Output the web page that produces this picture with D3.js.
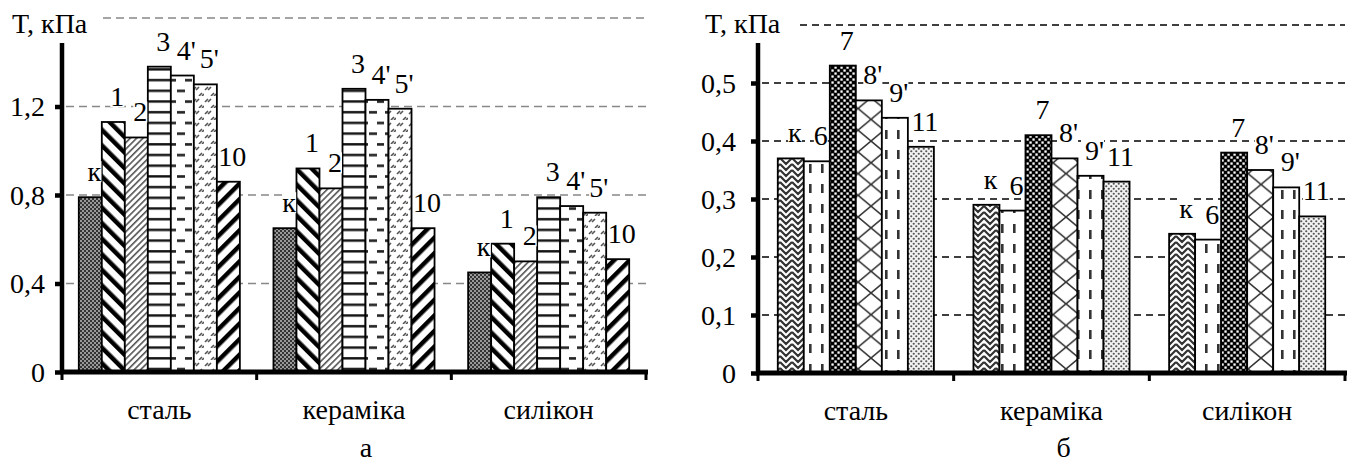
<!DOCTYPE html>
<html><head><meta charset="utf-8">
<script src="https://cdn.jsdelivr.net/npm/d3@7"></script>
<style>
body{margin:0;background:#fff}
</style></head>
<body><svg id="c" width="1357" height="463"></svg>
<script>
// ---- data ----
const categories = ["сталь", "кераміка", "силікон"];
// chart a
const seriesA = ["к", "1", "2", "3", "4'", "5'", "10"];
const a_k  = [0.79, 0.65, 0.45];
const a_1  = [1.13, 0.92, 0.58];
const a_2  = [1.06, 0.83, 0.50];
const a_3  = [1.38, 1.28, 0.79];
const a_4  = [1.34, 1.23, 0.75];
const a_5  = [1.30, 1.19, 0.72];
const a_10 = [0.86, 0.65, 0.51];
const tickValuesA = [0, 0.4, 0.8, 1.2];
const tickLabelsA = ["0", "0,4", "0,8", "1,2"];
const gridA = [0.4, 0.8, 1.2, 1.6];
// chart б
const seriesB = ["к", "6", "7", "8'", "9'", "11"];
const b_k  = [0.37, 0.29, 0.24];
const b_6  = [0.365, 0.28, 0.23];
const b_7  = [0.53, 0.41, 0.38];
const b_8  = [0.47, 0.37, 0.35];
const b_9  = [0.44, 0.34, 0.32];
const b_11 = [0.39, 0.33, 0.27];
const tickValuesB = [0, 0.1, 0.2, 0.3, 0.4, 0.5];
const tickLabelsB = ["0", "0,1", "0,2", "0,3", "0,4", "0,5"];
const gridB = [0.1, 0.2, 0.3, 0.4, 0.5, 0.6];
const yTitle = "T, кПа";
const panelLabels = ["а", "б"];

const valuesA = [a_k, a_1, a_2, a_3, a_4, a_5, a_10];
const valuesB = [b_k, b_6, b_7, b_8, b_9, b_11];

const FONT = "Liberation Serif";
const FS = 28;
const svg = d3.select("#c");
const defs = svg.append("defs");
function txt(sel) { return sel.style("font-family", FONT).style("font-size", FS + "px").attr("fill", "#000"); }

function pat(id, w, h, rot, draw) {
  const p = defs.append("pattern").attr("id", id).attr("patternUnits", "userSpaceOnUse")
    .attr("width", w).attr("height", h);
  if (rot) p.attr("patternTransform", "rotate(" + rot + ")");
  draw(p);
}
// chart a patterns
pat("pa0", 4, 4, 0, p => {
  p.append("rect").attr("width", 4).attr("height", 4).attr("fill", "#333");
  p.append("rect").attr("x", 0).attr("y", 0).attr("width", 2).attr("height", 2).attr("fill", "#999");
  p.append("rect").attr("x", 2).attr("y", 2).attr("width", 2).attr("height", 2).attr("fill", "#999");
});
pat("pa1", 11, 11, -45, p => {
  p.append("rect").attr("width", 11).attr("height", 11).attr("fill", "#fff");
  p.append("rect").attr("width", 4.5).attr("height", 11).attr("fill", "#000");
});
pat("pa2", 4.5, 4.5, 45, p => {
  p.append("rect").attr("width", 4.5).attr("height", 4.5).attr("fill", "#fff");
  p.append("rect").attr("width", 1.6).attr("height", 4.5).attr("fill", "#555");
});
pat("pa3", 10, 10.7, 0, p => {
  p.append("rect").attr("width", 10).attr("height", 10.7).attr("fill", "#fff");
  p.append("rect").attr("y", 4).attr("width", 10).attr("height", 2.4).attr("fill", "#111");
});
pat("pa4", 16, 21.4, 0, p => {
  p.append("rect").attr("width", 16).attr("height", 21.4).attr("fill", "#fff");
  p.append("rect").attr("x", 1).attr("y", 4).attr("width", 8).attr("height", 2.6).attr("fill", "#222");
  p.append("rect").attr("x", 9).attr("y", 14.7).attr("width", 7).attr("height", 2.6).attr("fill", "#222");
});
pat("pa5", 12, 12, 0, p => {
  p.append("rect").attr("width", 12).attr("height", 12).attr("fill", "#fff");
  p.append("path").attr("d", "M1,6L4,3M4,6L7,3M7,12L10,9M10,12L12,10")
    .attr("stroke", "#555").attr("stroke-width", 1.6);
});
pat("pa6", 11, 11, 45, p => {
  p.append("rect").attr("width", 11).attr("height", 11).attr("fill", "#fff");
  p.append("rect").attr("width", 4.5).attr("height", 11).attr("fill", "#000");
});
// chart б patterns
pat("pb0", 12, 12, 0, p => {
  p.append("rect").attr("width", 12).attr("height", 12).attr("fill", "#fff");
  p.append("path").attr("d", "M0,2L6,8L12,2M0,8L6,14M6,14L12,8M0,-4L6,2L12,-4")
    .attr("stroke", "#333").attr("stroke-width", 2.2).attr("fill", "none");
});
pat("pb1", 12, 20, 0, p => {
  p.append("rect").attr("width", 12).attr("height", 20).attr("fill", "#fff");
  p.append("rect").attr("x", 5).attr("y", 4).attr("width", 2.6).attr("height", 9).attr("fill", "#333");
});
pat("pb2", 6, 6, 0, p => {
  p.append("rect").attr("width", 6).attr("height", 6).attr("fill", "#000");
  p.append("rect").attr("x", 0.4).attr("y", 0.4).attr("width", 2.3).attr("height", 2.3).attr("fill", "#fff");
  p.append("rect").attr("x", 3.4).attr("y", 3.4).attr("width", 2.3).attr("height", 2.3).attr("fill", "#fff");
});
pat("pb3", 26, 21.7, 0, p => {
  p.append("rect").attr("width", 26).attr("height", 21.7).attr("fill", "#fff");
  p.append("path").attr("d", "M0,0L26,21.7M26,0L0,21.7")
    .attr("stroke", "#333").attr("stroke-width", 1.6);
});
pat("pb4", 12, 20, 0, p => {
  p.append("rect").attr("width", 12).attr("height", 20).attr("fill", "#fff");
  p.append("rect").attr("x", 9).attr("y", 10).attr("width", 2.6).attr("height", 9).attr("fill", "#333");
});
pat("pb5", 5, 5, 0, p => {
  p.append("rect").attr("width", 5).attr("height", 5).attr("fill", "#f2f2f2");
  p.append("circle").attr("cx", 1.25).attr("cy", 1.25).attr("r", 1.1).attr("fill", "#555");
  p.append("circle").attr("cx", 3.75).attr("cy", 3.75).attr("r", 1.1).attr("fill", "#555");
});

function drawChart(cfg) {
  const g = svg.append("g");
  const x = d3.scaleBand().domain(categories).range([cfg.x0, cfg.x1]);
  const xi = d3.scaleBand().domain(cfg.series).range([0, x.bandwidth()]).paddingOuter(cfg.pad);
  const y = d3.scaleLinear().domain([0, cfg.max]).range([cfg.yBase, cfg.yTop]);

  // gridlines
  g.append("g").selectAll("line").data(cfg.grid).join("line")
    .attr("x1", d => d === cfg.max ? cfg.gridTopStart : cfg.x0 + 4)
    .attr("x2", cfg.x1)
    .attr("y1", d => y(d)).attr("y2", d => y(d))
    .attr("stroke", cfg.gridColor).attr("stroke-width", 1.4)
    .attr("stroke-dasharray", cfg.dash);

  // bars
  const flat = [];
  cfg.series.forEach((s, si) => categories.forEach((c, ci) =>
    flat.push({ s, si, c, v: cfg.values[si][ci] })));
  g.append("g").selectAll("rect").data(flat).join("rect")
    .attr("x", d => x(d.c) + xi(d.s))
    .attr("y", d => y(d.v))
    .attr("width", xi.bandwidth())
    .attr("height", d => y(0) - y(d.v))
    .attr("fill", d => "url(#" + cfg.patPrefix + d.si + ")")
    .attr("stroke", "#000").attr("stroke-width", 1.8);

  // data labels with white background
  const lg = g.append("g");
  flat.forEach(d => {
    const t = txt(lg.append("text"))
      .attr("x", x(d.c) + xi(d.s) + xi.bandwidth() / 2 + 4)
      .attr("y", y(d.v) - 16)
      .attr("text-anchor", "middle").text(d.s);
    const bb = t.node().getBBox();
    lg.insert("rect", () => t.node())
      .attr("x", bb.x).attr("y", bb.y + 5).attr("width", bb.width).attr("height", bb.height - 10)
      .attr("fill", "#fff");
  });

  // y axis
  const ya = d3.axisLeft(y).tickValues(cfg.tickValues)
    .tickFormat((d, i) => cfg.tickLabels[i]).tickSize(7).tickPadding(cfg.tickPad);
  const yg = g.append("g").attr("transform", "translate(" + cfg.x0 + ",0)").call(ya);
  yg.select(".domain").remove();
  yg.selectAll(".tick line").attr("stroke", "#000").attr("stroke-width", 4.5);
  txt(yg.selectAll(".tick text")).attr("dy", "0.33em");
  g.append("line").attr("x1", cfg.x0).attr("x2", cfg.x0).attr("y1", y(0) + 2).attr("y2", 43)
    .attr("stroke", "#000").attr("stroke-width", 4.5);

  // x axis
  const xa = d3.axisBottom(x).tickSize(0).tickPadding(27);
  const xg = g.append("g").attr("transform", "translate(0," + y(0) + ")").call(xa);
  txt(xg.selectAll(".tick text"));
  xg.select(".domain").remove();
  g.append("line").attr("x1", cfg.x0 - 2).attr("x2", cfg.x1 + 2).attr("y1", y(0)).attr("y2", y(0))
    .attr("stroke", "#000").attr("stroke-width", 5);
  const bounds = categories.map(c => x(c)).concat([cfg.x1]);
  g.append("g").selectAll("line").data(bounds).join("line")
    .attr("x1", d => d).attr("x2", d => d).attr("y1", y(0)).attr("y2", y(0) + 8)
    .attr("stroke", "#000").attr("stroke-width", 3);

  // title
  txt(g.append("text")).attr("x", cfg.titleX).attr("y", 33).text(yTitle);
  // panel label
  txt(g.append("text")).attr("x", (cfg.x0 + cfg.x1) / 2 + 12).attr("y", 457)
    .attr("text-anchor", "middle").text(cfg.panel);
}

drawChart({
  x0: 62, x1: 646, yBase: 372, yTop: 18, max: 1.6, series: seriesA, values: valuesA,
  pad: 0.73, grid: gridA, gridColor: "#888", dash: "8,5", gridTopStart: 103,
  patPrefix: "pa", tickValues: tickValuesA, tickLabels: tickLabelsA, tickPad: 10,
  titleX: 12, panel: panelLabels[0]
});
drawChart({
  x0: 758, x1: 1345, yBase: 373, yTop: 25, max: 0.6, series: seriesB, values: valuesB,
  pad: 0.76, grid: gridB, gridColor: "#000", dash: "7,5", gridTopStart: 800,
  patPrefix: "pb", tickValues: tickValuesB, tickLabels: tickLabelsB, tickPad: 15,
  titleX: 705, panel: panelLabels[1]
});
</script></body></html>
